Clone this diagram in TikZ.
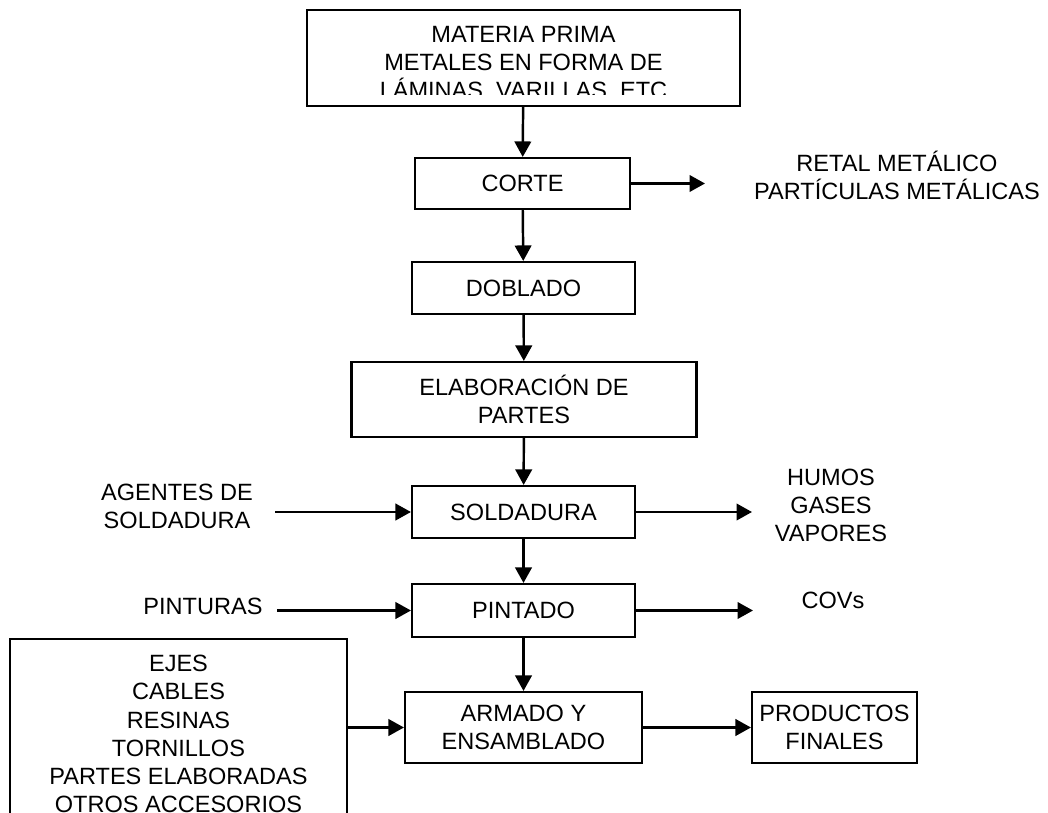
\documentclass[tikz,border=0pt]{standalone}
\usepackage{fontspec}
\setmainfont{Liberation Sans}
\usetikzlibrary{positioning, arrows.meta, calc}

\begin{document}
\begin{tikzpicture}[
      every node/.style={font=\fontsize{13.4}{16}\selectfont},
      box/.style={draw, line width=1.2pt, align=center, inner sep=0pt},
      lbl/.style={align=center, inner sep=0pt},
      flow/.style={-{Triangle[length=3.1mm, width=3.3mm]}, line width=1.4pt},
    ]
    \useasboundingbox (0,0) rectangle (20.96,-16.26);

    % main line
    \node[box, minimum width=8.66cm, minimum height=1.92cm] (mp) at (10.47,-1.16) {};
    \begin{scope}
      \clip (6.14,-0.2) rectangle (14.8,-1.90);
      \node[lbl] (mptxt) at (10.47,-1.28) {MATERIA PRIMA\\METALES EN FORMA DE\\LÁMINAS, VARILLAS, ETC};
    \end{scope}
    \node[box, minimum width=4.30cm, minimum height=1.02cm] (corte) at (10.45,-3.67) {CORTE};
    \node[box, minimum width=4.46cm, minimum height=1.04cm] (doblado) at (10.47,-5.76) {DOBLADO};
    \node[box, minimum width=6.9cm, minimum height=1.5cm] (elab) at (10.48,-7.99) {ELABORACIÓN DE\\PARTES};
    \node[box, minimum width=4.46cm, minimum height=1.04cm] (sold) at (10.47,-10.24) {SOLDADURA};
    \node[box, minimum width=4.46cm, minimum height=1.06cm] (pint) at (10.47,-12.21) {PINTADO};
    \node[box, minimum width=4.74cm, minimum height=1.42cm] (arm) at (10.47,-14.55) {ARMADO Y\\ENSAMBLADO};
    \node[box, minimum width=3.30cm, minimum height=1.42cm] (prod) at (16.69,-14.55) {PRODUCTOS\\FINALES};

    \draw[flow] (mp) -- (corte);
    \draw[flow] (corte) -- (doblado);
    \draw[flow] (doblado) -- (elab);
    \draw[flow] (elab) -- (sold);
    \draw[flow] (sold) -- (pint);
    \draw[flow] (pint) -- (arm);
    \draw[flow] (arm) -- (prod);

    % inputs
    \node[lbl] (agentes) at (3.54,-10.13) {AGENTES DE\\SOLDADURA};
    \node[lbl] (pinturas) at (4.06,-12.12) {PINTURAS};
    \node[box, minimum width=6.74cm, minimum height=3.8cm] (otros) at (3.57,-14.68)
      {EJES\\CABLES\\RESINAS\\TORNILLOS\\PARTES ELABORADAS\\OTROS ACCESORIOS};
    \coordinate (agentesout) at (5.50,-10.24);
    \coordinate (pinturasout) at (5.54,-12.21);
    \draw[flow] (agentesout) -- (sold);
    \draw[flow] (pinturasout) -- (pint);
    \draw[flow] (otros.east |- arm.west) -- (arm);

    % outputs
    \node[lbl] (retal) at (17.94,-3.50) {RETAL METÁLICO\\PARTÍCULAS METÁLICAS};
    \node[lbl] (humos) at (16.62,-10.11) {HUMOS\\GASES\\VAPORES};
    \node[lbl] (covs) at (16.66,-12.0) {COVs};
    \coordinate (retalin) at (14.10,-3.67);
    \coordinate (humosin) at (15.04,-10.24);
    \coordinate (covsin) at (15.06,-12.21);
    \draw[flow] (corte) -- (retalin);
    \draw[flow] (sold) -- (humosin);
    \draw[flow] (pint) -- (covsin);
  \end{tikzpicture}
\end{document}
